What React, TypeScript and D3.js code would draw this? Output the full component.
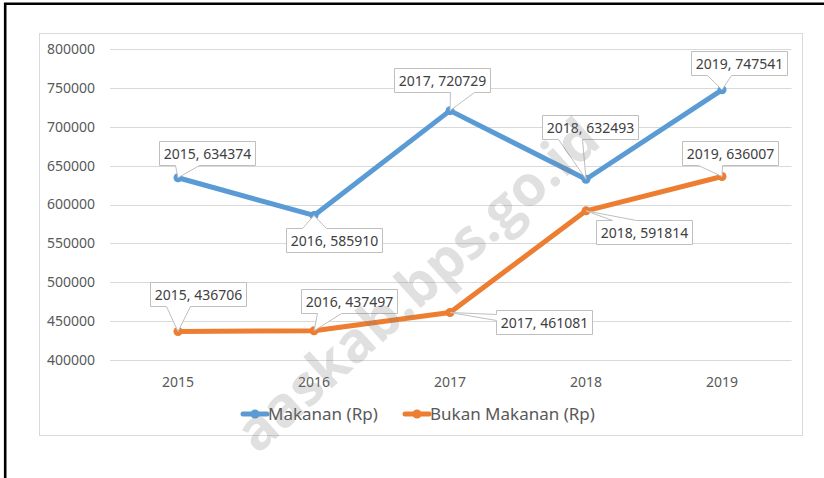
import React from "react";
import * as d3 from "d3";

const years = ["2015", "2016", "2017", "2018", "2019"];
const makanan = [634374, 585910, 720729, 632493, 747541];
const bukanMakanan = [436706, 437497, 461081, 591814, 636007];
const yTicks = [400000, 450000, 500000, 550000, 600000, 650000, 700000, 750000, 800000];
const seriesNames = ["Makanan (Rp)", "Bukan Makanan (Rp)"];

// label box centre offsets from data point (layout only)
const makananLabelOffsets = [
  [28.5, -24.5], [20, 25], [-8, -31], [3.5, -52.5], [17, -27],
];
const bukanLabelOffsets = [
  [19.5, -37.5], [34.5, -29.5], [93.5, 9], [58, 21], [8, -23.5],
];

const BLUE = "#5B9BD5";
const ORANGE = "#ED7D31";
const FONT = "'Noto Sans', sans-serif";

function calloutPath(bx: number, by: number, w: number, h: number, px: number, py: number) {
  const cx = bx + w / 2, cy = by + h / 2;
  const dx = px - cx, dy = py - cy;
  if (Math.abs(dx) / w > Math.abs(dy) / h) {
    const [y1, y2] = dy > 0 ? [by + (h * 7) / 12, by + (h * 10) / 12] : [by + (h * 2) / 12, by + (h * 5) / 12];
    if (dx < 0) {
      return `M${bx},${by}H${bx + w}V${by + h}H${bx}V${y2}L${px},${py}L${bx},${y1}Z`;
    }
    return `M${bx},${by}H${bx + w}V${y1}L${px},${py}L${bx + w},${y2}V${by + h}H${bx}Z`;
  }
  const [x1, x2] = dx > 0 ? [bx + (w * 7) / 12, bx + (w * 10) / 12] : [bx + (w * 2) / 12, bx + (w * 5) / 12];
  if (dy > 0) {
    return `M${bx},${by}H${bx + w}V${by + h}H${x2}L${px},${py}L${x1},${by + h}H${bx}Z`;
  }
  return `M${bx},${by}H${x1}L${px},${py}L${x2},${by}H${bx + w}V${by + h}H${bx}Z`;
}

export default function App() {
  const W = 824, H = 478;
  const x = d3.scalePoint<string>().domain(years).range([110, 790]).padding(0.5);
  const y = d3.scaleLinear().domain([400000, 800000]).range([360, 49]);

  const line = d3
    .line<number>()
    .x((_, i) => x(years[i]) as number)
    .y((d) => y(d));

  const series = [
    { name: seriesNames[0], values: makanan, color: BLUE, offsets: makananLabelOffsets },
    { name: seriesNames[1], values: bukanMakanan, color: ORANGE, offsets: bukanLabelOffsets },
  ];

  const boxW = 96, boxH = 24;

  const legendItems = [
    { name: seriesNames[0], color: BLUE, x0: 243 },
    { name: seriesNames[1], color: ORANGE, x0: 405 },
  ];

  return (
    <svg
      width={W}
      height={H}
      style={{ position: "absolute", left: 0, top: 0, background: "#fff" }}
      fontFamily={FONT}
    >
      <defs>
        <clipPath id="pageClip">
          <rect x={0} y={0} width={W} height={H} />
        </clipPath>
      </defs>
      <rect x={0} y={0} width={W} height={H} fill="#fff" />
      {/* outer page border */}
      <path d={`M5.2,${H}V3.7H${W}`} fill="none" stroke="#000" strokeWidth={2.6} />
      {/* chart frame */}
      <rect x={39.5} y={33.5} width={763} height={402} fill="#fff" stroke="#d9d9d9" strokeWidth={1} />

      {/* gridlines + y labels */}
      {yTicks.map((t) => (
        <g key={t}>
          <line x1={110} x2={791.5} y1={Math.round(y(t)) + 0.5} y2={Math.round(y(t)) + 0.5} stroke="#d9d9d9" strokeWidth={1} />
          <text x={95} y={y(t)} dy="0.35em" textAnchor="end" fontSize={14} fill="#595959">
            {t}
          </text>
        </g>
      ))}

      {/* x labels */}
      {years.map((yr) => (
        <text key={yr} x={x(yr)} y={387} textAnchor="middle" fontSize={14} fill="#595959">
          {yr}
        </text>
      ))}

      {/* lines */}
      {series.map((s) => (
        <g key={s.name}>
          <path d={line(s.values) || ""} fill="none" stroke={s.color} strokeWidth={5} strokeLinejoin="round" strokeLinecap="round" />
          {s.values.map((v, i) => (
            <circle key={i} cx={x(years[i])} cy={y(v)} r={4.5} fill={s.color} />
          ))}
        </g>
      ))}

      {/* data labels */}
      {series.map((s) =>
        s.values.map((v, i) => {
          const px = x(years[i]) as number;
          const py = y(v);
          const cx = px + s.offsets[i][0];
          const cy = py + s.offsets[i][1];
          const bx = Math.round(cx - boxW / 2) + 0.5;
          const by = Math.round(cy - boxH / 2) + 0.5;
          return (
            <g key={s.name + i}>
              <path d={calloutPath(bx, by, boxW, boxH, px, py)} fill="#fff" stroke="#bfbfbf" strokeWidth={1} />
              <text x={bx + boxW / 2} y={by + boxH / 2} dy="0.36em" textAnchor="middle" fontSize={14} fill="#404040">
                {`${years[i]}, ${v}`}
              </text>
            </g>
          );
        })
      )}

      {/* legend */}
      {legendItems.map((l) => (
        <g key={l.name}>
          <line x1={l.x0} x2={l.x0 + 24} y1={414} y2={414} stroke={l.color} strokeWidth={5} strokeLinecap="round" />
          <circle cx={l.x0 + 12} cy={414} r={4.5} fill={l.color} />
          <text x={l.x0 + 25} y={414} dy="0.35em" fontSize={17} fill="#595959">
            {l.name}
          </text>
        </g>
      ))}

      {/* watermark */}
      <g clipPath="url(#pageClip)">
        <text
          transform="translate(603,144) rotate(-42)"
          textAnchor="end"
          fontSize={56}
          fontWeight={700}
          fontFamily="'Open Sans', sans-serif"
          fill="#7f7f7f"
          fillOpacity={0.24}
        >
          aaskab.bps.go.id
        </text>
      </g>
    </svg>
  );
}
